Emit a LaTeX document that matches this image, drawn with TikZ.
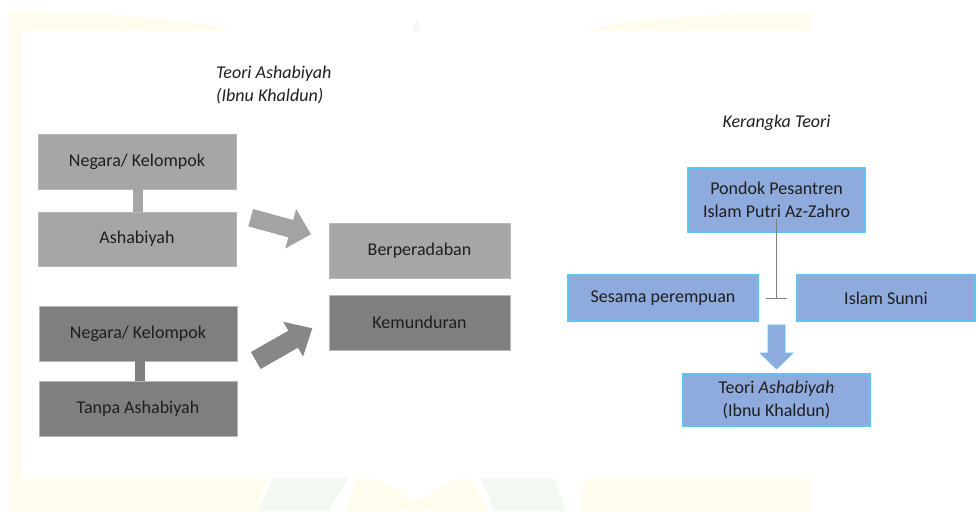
\documentclass[tikz,border=0pt]{standalone}
\usepackage{fontspec}
\setmainfont{Carlito}
\definecolor{lgray}{HTML}{A6A6A6}
\definecolor{dgray}{HTML}{7F7F7F}
\definecolor{larrow}{HTML}{A3A3A3}
\definecolor{darrow}{HTML}{878787}
\definecolor{gedge}{HTML}{B8B8B8}
\definecolor{bfill}{HTML}{8FAADC}
\definecolor{bedge}{HTML}{5EC4F0}
\definecolor{txt}{HTML}{1E1E1E}
\definecolor{wmy}{HTML}{FFFCEE}
\definecolor{wmg}{HTML}{F3F8F1}
\begin{document}
\begin{tikzpicture}[x=1pt,y=-1pt,
  every node/.style={font=\fontsize{18}{22.5}\selectfont, text=txt, inner sep=0pt, align=center},
  lbox/.style={fill=lgray, draw=gedge, line width=0.6pt, rectangle},
  dbox/.style={fill=dgray, draw=gedge, line width=0.6pt, rectangle},
  bbox/.style={fill=bfill, draw=bedge, line width=1.2pt, rectangle},
  title/.style={font=\fontsize{18}{23}\selectfont\itshape}
]
% canvas
\useasboundingbox (0,0) rectangle (979,511);
\fill[white] (0,0) rectangle (979,511);
% faint watermark
\fill[wmy] (9,12) .. controls (120,12) and (200,20) .. (231,31) -- (9,31) -- cycle;
\fill[wmy] (810,13) .. controls (700,13) and (620,20) .. (584,31) -- (810,31) -- cycle;
\fill[wmy] (9,12) rectangle (22,511);
\fill[wmy] (9,478) -- (266,478) -- (257,511) -- (9,511) -- cycle;
\fill[wmg] (273,478) -- (348,478) .. controls (340,492) and (333,502) .. (329,511) -- (258,511) -- cycle;
\fill[wmy] (358,478) -- (372,478) .. controls (390,484) and (405,495) .. (416,502) .. controls (428,495) and (442,484) .. (462,478) -- (469,478) .. controls (478,492) and (485,502) .. (488,511) -- (345,511) .. controls (348,500) and (352,490) .. (358,478) -- cycle;
\fill[wmg] (480,478) -- (554,478) -- (566,511) -- (494,511) .. controls (490,500) and (486,490) .. (480,478) -- cycle;
\fill[wmy] (584,478) -- (810,478) -- (810,511) -- (579,511) -- cycle;
\fill[wmg] (413,31) -- (417,18) -- (421,31) -- cycle;

% titles
\node[title, anchor=west, align=left] (t1) at (216,84.5) {Teori Ashabiyah\\(Ibnu Khaldun)};
\node[title] (t2) at (776.5,123) {Kerangka Teori};

% left boxes
\node[lbox, minimum width=198pt, minimum height=55pt] (b1) at (137,161.5) {Negara/ Kelompok};
\node[lbox, minimum width=198pt, minimum height=54pt] (b2) at (137,239) {Ashabiyah};
\node[dbox, minimum width=198pt, minimum height=55pt] (b3) at (138,333.5) {Negara/ Kelompok};
\node[dbox, minimum width=198pt, minimum height=55pt] (b4) at (138,408.5) {Tanpa Ashabiyah};
\draw[lgray, line width=10pt] ([xshift=1pt]b1.south) -- ([xshift=1pt]b2.north);
\draw[dgray, line width=10pt] ([xshift=2pt]b3.south) -- ([xshift=2pt]b4.north);

\node[lbox, minimum width=181pt, minimum height=55pt] (ber) at (419.5,250.5) {Berperadaban};
\node[dbox, minimum width=181pt, minimum height=55pt] (kem) at (419.5,322.5) {Kemunduran};

% block arrows
\begin{scope}[shift={(250.7,217.7)}, rotate=-15.4]
  \fill[larrow] (0,-9) -- (41.5,-9) -- (41.5,-20.5) -- (62.5,0) -- (41.5,20.5) -- (41.5,9) -- (0,9) -- cycle;
\end{scope}
\begin{scope}[shift={(255.8,360.5)}, rotate=29.7]
  \fill[darrow] (0,-9.75) -- (43,-9.75) -- (43,-20) -- (65,0) -- (43,20) -- (43,9.75) -- (0,9.75) -- cycle;
\end{scope}

% right diagram
\node[bbox, minimum width=177pt, minimum height=64pt] (pon) at (776.5,200) {Pondok Pesantren\\Islam Putri Az-Zahro};
\node[bbox, minimum width=190pt, minimum height=46pt] (ses) at (663,298) {Sesama perempuan};
\node[bbox, minimum width=178pt, minimum height=46pt] (sun) at (886,298) {Islam Sunni};
\node[bbox, minimum width=187pt, minimum height=52pt] (teo) at (776.5,400) {Teori \textit{Ashabiyah}\\(Ibnu Khaldun)};

\coordinate (tt) at ([yshift=14pt]pon.south);
\coordinate (tb) at (776.5,298);
\draw[gray, line width=0.8pt] (tt) -- (tb);
\draw[gray, line width=0.8pt] ([xshift=-10.5pt]tb) -- ([xshift=10.5pt]tb);

\fill[bfill, draw=bedge, line width=0.6pt] (768,325) -- (785,325) -- (785,353) -- (793,353) -- (776.5,369) -- (760,353) -- (768,353) -- cycle;
\end{tikzpicture}
\end{document}
